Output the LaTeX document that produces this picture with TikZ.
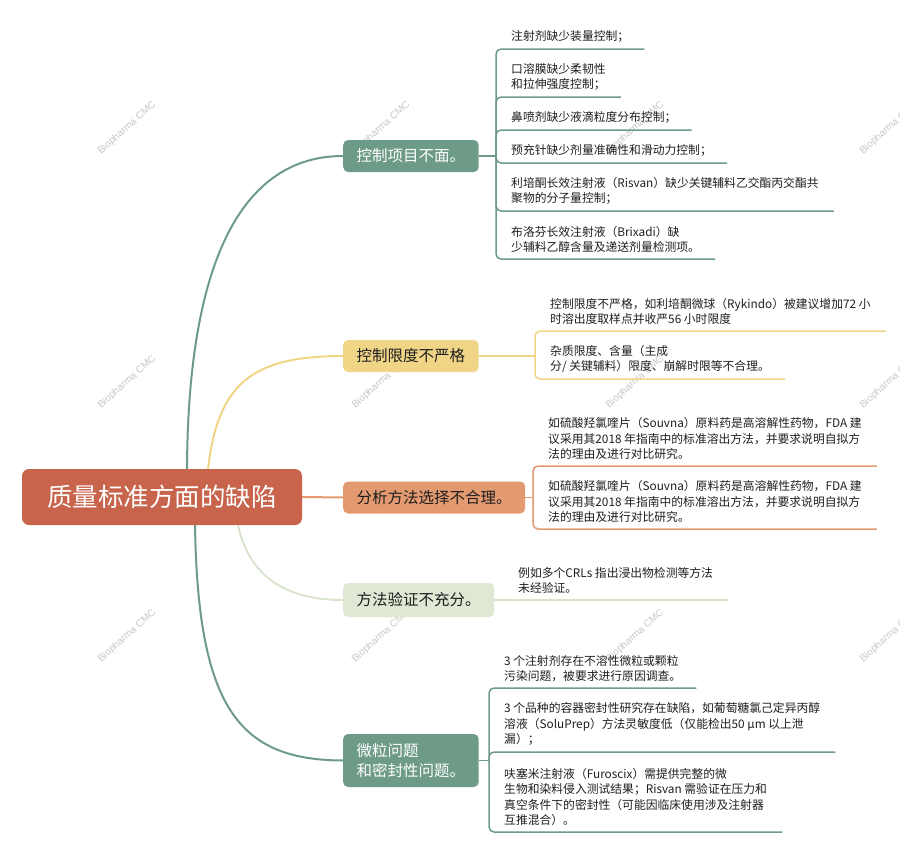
\documentclass[tikz,border=0pt]{standalone}
\usepackage{fontspec}
\usetikzlibrary{backgrounds}
\newfontfamily\cjk{Noto Sans CJK SC}
\newfontfamily\wmfont{Liberation Sans}
\definecolor{cteal}{HTML}{6D9B88}
\definecolor{croot}{HTML}{C8644C}
\definecolor{cyellow}{HTML}{F1D587}
\definecolor{corange}{HTML}{E49A71}
\definecolor{clgreen}{HTML}{DEE8D4}
\definecolor{clgline}{HTML}{D9E4CF}
\definecolor{ctext}{HTML}{1E1E1E}
\begin{document}
\begin{tikzpicture}[x=1pt,y=-1pt,
  wm/.style={font=\wmfont\fontsize{10}{12}\selectfont, text=black!22, rotate=42},
  rootbox/.style={fill=croot, rounded corners=7pt, minimum width=280pt, minimum height=56pt, text=white, font=\cjk\fontsize{25.5}{30}\selectfont, inner sep=0pt},
  brbox/.style={rounded corners=5pt, inner xsep=13.5pt, inner ysep=0pt, minimum height=32pt, font=\cjk\fontsize{15.5}{20}\selectfont, anchor=west, align=left},
  leaf/.style={font=\cjk\fontsize{11.8}{15.5}\selectfont, align=left, inner xsep=15pt, inner ysep=6pt, text=ctext, anchor=south west},
  mainline/.style={line width=2pt},
  leafline/.style={line width=1.5pt, rounded corners=5pt},
]
\useasboundingbox (0,0) rectangle (900,854);

% nodes: root and branches
\node[rootbox] (root) at (162,497) {质量标准方面的缺陷};
\node[brbox, fill=cteal, text=white] (b1) at (343,156) {控制项目不面。};
\node[brbox, fill=cyellow, text=ctext] (b2) at (343,356) {控制限度不严格};
\node[brbox, fill=corange, text=ctext] (b3) at (343,497.5) {分析方法选择不合理。};
\node[brbox, fill=clgreen, text=ctext, minimum height=34pt] (b4) at (343,600) {方法验证不充分。};
\node[brbox, fill=cteal, text=white, minimum height=53pt] (b5) at (343,760.5) {微粒问题\\和密封性问题。};

% junctions
\coordinate (j1) at (496,156);
\coordinate (j2) at (535,356);
\coordinate (j3) at (533,497.5);
\coordinate (j5) at (489,760.5);

% leaves branch 1
\node[leaf] (l11) at (496,49) {注射剂缺少装量控制；};
\node[leaf] (l12) at (496,97) {口溶膜缺少柔韧性\\和拉伸强度控制；};
\node[leaf] (l13) at (496,130) {鼻喷剂缺少液滴粒度分布控制；};
\node[leaf] (l14) at (496,163) {预充针缺少剂量准确性和滑动力控制；};
\node[leaf] (l15) at (496,211) {利培酮长效注射液（Risvan）缺少关键辅料乙交酯丙交酯共\\聚物的分子量控制；};
\node[leaf] (l16) at (496,259) {布洛芬长效注射液（Brixadi）缺\\少辅料乙醇含量及递送剂量检测项。};

% leaves branch 2
\node[leaf] (l21) at (535,331) {控制限度不严格，如利培酮微球（Rykindo）被建议增加72 小\\时溶出度取样点并收严56 小时限度};
\node[leaf] (l22) at (535,379) {杂质限度、含量（主成\\分/ 关键辅料）限度、崩解时限等不合理。};

% leaves branch 3
\node[leaf] (l31) at (533,466) {如硫酸羟氯喹片（Souvna）原料药是高溶解性药物，FDA 建\\议采用其2018 年指南中的标准溶出方法，并要求说明自拟方\\法的理由及进行对比研究。};
\node[leaf] (l32) at (533,529) {如硫酸羟氯喹片（Souvna）原料药是高溶解性药物，FDA 建\\议采用其2018 年指南中的标准溶出方法，并要求说明自拟方\\法的理由及进行对比研究。};

% leaf branch 4
\node[leaf] (l41) at (503,600) {例如多个CRLs 指出浸出物检测等方法\\未经验证。};

% leaves branch 5
\node[leaf] (l51) at (489,688) {3 个注射剂存在不溶性微粒或颗粒\\污染问题，被要求进行原因调查。};
\node[leaf] (l52) at (489,752) {3 个品种的容器密封性研究存在缺陷，如葡萄糖氯己定异丙醇\\溶液（SoluPrep）方法灵敏度低（仅能检出50 μm 以上泄\\漏）；};
\node[leaf] (l53) at (489,832) {呋塞米注射液（Furoscix）需提供完整的微\\生物和染料侵入测试结果；Risvan 需验证在压力和\\真空条件下的密封性（可能因临床使用涉及注射器\\互推混合）。};

\begin{scope}[on background layer]
% watermarks
\foreach \wx in {127,381,635,889}{
  \foreach \wy in {128,382,636}{
    \node[wm] (wm-\wx-\wy) at (\wx,\wy) {Biopharma CMC};
  }
}
% main connectors
\draw[mainline, cteal] ([xshift=25pt]root.north) .. controls (188,255) and (245,156) .. (b1.west);
\draw[mainline, cyellow] ([xshift=46pt]root.north) .. controls (218,385) and (250,356) .. (b2.west);
\draw[mainline, corange] (root.east) -- (b3.west);
\draw[mainline, clgline] ([xshift=76pt]root.south) .. controls (250,580) and (290,600) .. (b4.west);
\draw[mainline, cteal] ([xshift=33pt]root.south) .. controls (198,710) and (240,760) .. (b5.west);
\end{scope}

% branch 1 leaf lines
\draw[leafline, cteal] (b1.east) -- (j1);
\foreach \l in {l11,l12,l13,l14,l15,l16}{
  \draw[leafline, cteal] (j1) |- (\l.south east);
}
% branch 2
\draw[leafline, cyellow] (b2.east) -- (j2);
\foreach \l in {l21,l22}{
  \draw[leafline, cyellow] (j2) |- (\l.south east);
}
% branch 3
\draw[leafline, corange] (b3.east) -- (j3);
\foreach \l in {l31,l32}{
  \draw[leafline, corange] (j3) |- (\l.south east);
}
% branch 4
\draw[leafline, clgline] (b4.east) -- (l41.south east);
% branch 5
\draw[leafline, cteal] (b5.east) -- (j5);
\foreach \l in {l51,l52,l53}{
  \draw[leafline, cteal] (j5) |- (\l.south east);
}
\end{tikzpicture}
\end{document}
